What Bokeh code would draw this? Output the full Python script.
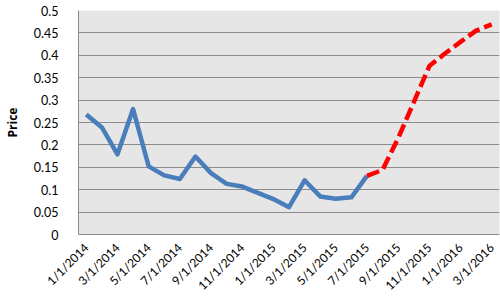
from math import pi
from bokeh.plotting import figure
from bokeh.models import Range1d, FixedTicker
from bokeh.embed import file_html
from bokeh.resources import INLINE

months = ["1/1/2014", "2/1/2014", "3/1/2014", "4/1/2014", "5/1/2014", "6/1/2014",
          "7/1/2014", "8/1/2014", "9/1/2014", "10/1/2014", "11/1/2014", "12/1/2014",
          "1/1/2015", "2/1/2015", "3/1/2015", "4/1/2015", "5/1/2015", "6/1/2015",
          "7/1/2015", "8/1/2015", "9/1/2015", "10/1/2015", "11/1/2015", "12/1/2015",
          "1/1/2016", "2/1/2016", "3/1/2016"]

# Actual price: 1/1/2014 .. 7/1/2015
actual = [0.268, 0.239, 0.179, 0.280, 0.152, 0.132, 0.124, 0.174, 0.137, 0.113,
          0.107, 0.093, 0.079, 0.061, 0.121, 0.085, 0.080, 0.083, 0.131]
# Forecast price: 7/1/2015 .. 3/1/2016
forecast = [0.131, 0.144, 0.215, 0.295, 0.376, 0.404, 0.430, 0.455, 0.469]

y_ticks = [0, 0.05, 0.1, 0.15, 0.2, 0.25, 0.3, 0.35, 0.4, 0.45, 0.5]
y_tick_labels = ["0", "0.05", "0.1", "0.15", "0.2", "0.25", "0.3", "0.35", "0.4", "0.45", "0.5"]
y_title = "Price"

idx = list(range(len(months)))
actual_x = idx[:len(actual)]
forecast_x = idx[len(actual) - 1:len(actual) - 1 + len(forecast)]
label_x = idx[::2]

FONT = "Lato"

p = figure(width=500, height=301, output_backend="svg", toolbar_location=None,
           x_range=Range1d(-0.5, len(months) - 0.5), y_range=Range1d(0, 0.5),
           min_border_left=73, min_border_right=1, min_border_top=10, min_border_bottom=66)
p.background_fill_color = "#e6e6e6"
p.border_fill_color = "white"
p.outline_line_color = None

p.xgrid.grid_line_color = None
p.ygrid.grid_line_color = "#8c8c8c"
p.ygrid.grid_line_width = 1

p.yaxis.ticker = FixedTicker(ticks=y_ticks)
p.yaxis.major_label_overrides = {t: l for t, l in zip(y_ticks, y_tick_labels)}
p.yaxis.major_tick_line_color = None
p.yaxis.minor_tick_line_color = None
p.yaxis.axis_line_color = "#8c8c8c"
p.yaxis.major_label_text_font = FONT
p.yaxis.major_label_text_font_size = "12.5px"
p.yaxis.major_label_text_color = "black"
p.yaxis.major_label_standoff = 14
p.yaxis.axis_label = y_title
p.yaxis.axis_label_text_font = "Open Sans"
p.yaxis.axis_label_text_font_style = "bold"
p.yaxis.axis_label_text_font_size = "12px"
p.yaxis.axis_label_text_color = "black"
p.yaxis.axis_label_standoff = 10

p.xaxis.ticker = FixedTicker(ticks=label_x)
p.xaxis.major_label_overrides = {i: months[i] for i in label_x}
p.xaxis.major_label_orientation = pi / 4
p.xaxis.major_tick_line_color = None
p.xaxis.minor_tick_line_color = None
p.xaxis.axis_line_color = "#8c8c8c"
p.xaxis.major_label_text_font = FONT
p.xaxis.major_label_text_font_size = "12px"
p.xaxis.major_label_text_color = "black"
p.xaxis.major_label_standoff = 5

p.line(actual_x, actual, line_color="#4a7ebb", line_width=4.5, line_join="round")
p.line(forecast_x, forecast, line_color="#ff0000", line_width=4.5, line_dash="13 5")

open("out.html", "w").write(file_html(p, INLINE))
